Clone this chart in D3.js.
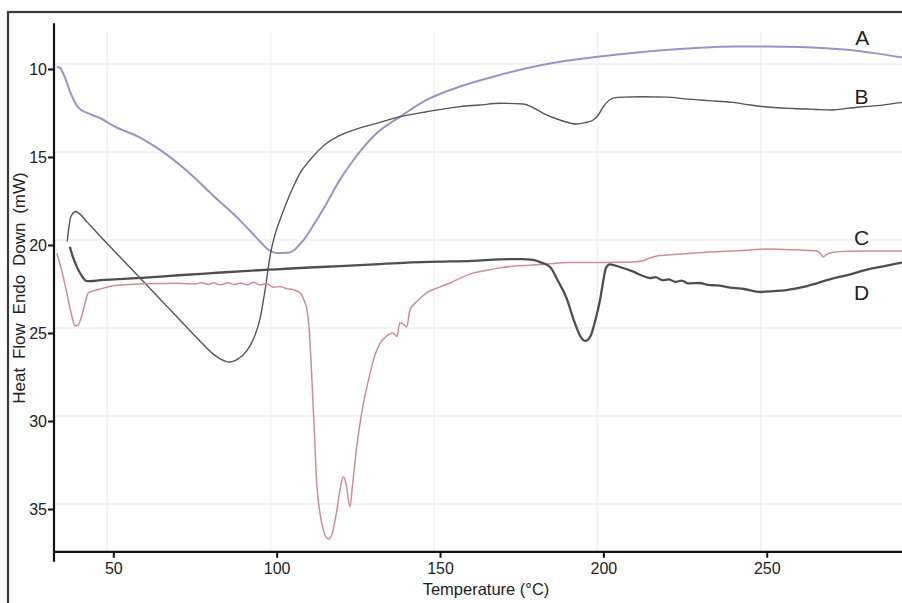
<!DOCTYPE html>
<html>
<head>
<meta charset="utf-8">
<script src="https://cdn.jsdelivr.net/npm/d3@7"></script>
<style>
    body { margin: 0; background: #fff; }
    svg { display: block; font-family: "Liberation Sans", Arial, sans-serif; }
</style>
</head>
<body>
<div id="chart"></div>
<script>
/* Tick values */
const xTicks = [50, 100, 150, 200, 250];
const yTicks = [10, 15, 20, 25, 30, 35];

/* Curve A (temperature, heat flow) */
const tempA = [32.7, 33.7, 35, 37, 39.3, 42, 46, 50.5, 58.2, 64.3, 72.6, 80.6, 88.8, 94.9, 97, 100, 104, 108.2, 111.5, 115.3, 119, 123.5, 130.6, 137.8, 145.9, 156.1, 166.3, 176.5, 186.7, 196.9, 205.1, 217, 229.6, 240, 250, 260, 268, 275.3, 283, 291.4];
const flowA = [9.87, 9.94, 10.4, 11.4, 12.2, 12.5, 12.8, 13.28, 13.9, 14.6, 15.8, 17.2, 18.6, 19.8, 20.2, 20.45, 20.42, 19.72, 18.8, 17.63, 16.4, 15.17, 13.65, 12.71, 11.76, 11.0, 10.44, 9.96, 9.59, 9.34, 9.16, 8.95, 8.8, 8.73, 8.72, 8.75, 8.82, 8.92, 9.1, 9.35];

/* Curve B */
const tempB = [35.9, 36.4, 37, 38.5, 39.5, 42, 46, 50.5, 56, 62.2, 67, 71.4, 76, 80.6, 83, 85.5, 88, 90.9, 93, 94.9, 96.5, 98, 99.5, 101, 103, 105.1, 107.2, 110.2, 115.3, 119, 123.5, 130.6, 137.8, 145.9, 156.1, 162, 168.4, 175.5, 178.5, 181.6, 186.7, 191.8, 194.5, 196.9, 198.5, 200, 203, 206, 212, 219.5, 225, 232, 239.7, 245, 250.1, 258, 265, 270.3, 274, 278.6, 284, 291.4];
const flowB = [19.8, 19.0, 18.4, 18.1, 18.2, 18.7, 19.5, 20.38, 21.45, 22.66, 23.6, 24.46, 25.35, 26.2, 26.5, 26.65, 26.5, 26.0, 25.3, 24.2, 22.5, 20.6, 19.4, 18.58, 17.6, 16.69, 15.9, 15.17, 14.22, 13.8, 13.47, 13.09, 12.71, 12.43, 12.14, 12.05, 11.95, 11.99, 12.2, 12.52, 12.9, 13.13, 13.05, 12.9, 12.6, 12.14, 11.66, 11.6, 11.58, 11.6, 11.7, 11.8, 11.9, 12.05, 12.16, 12.25, 12.3, 12.33, 12.25, 12.16, 12.08, 11.9];

/* Curve C */
const tempC = [32.7, 34, 35.5, 37, 38.3, 39.2, 40.4, 41.5, 42.3, 44, 46, 50.5, 60.3, 70, 75, 77, 79, 80.6, 83, 85, 87, 89, 91, 93, 94.9, 97, 99, 101, 103, 105, 107.2, 108.5, 109.3, 110.2, 110.8, 111.5, 112.2, 113.3, 114.5, 115.8, 117, 118.3, 119.4, 120.4, 121.3, 122.4, 123.3, 124.5, 126, 128.1, 130, 131.6, 133.5, 135.6, 136.8, 137.7, 138.8, 139.8, 140.8, 143, 146, 149, 153, 156, 160, 164, 168.4, 173, 178.5, 183, 188.9, 194, 199, 204, 209, 212, 214.3, 217, 219.5, 225, 232, 239.7, 245, 250.1, 258, 265.4, 266.5, 267.2, 268.2, 269.3, 275, 280.7, 291.4];
const flowC = [20.47, 21.3, 22.5, 23.8, 24.6, 24.55, 24.0, 23.2, 22.74, 22.6, 22.5, 22.3, 22.2, 22.18, 22.22, 22.14, 22.24, 22.16, 22.26, 22.14, 22.25, 22.16, 22.26, 22.12, 22.27, 22.2, 22.4, 22.36, 22.48, 22.54, 22.73, 23.2, 23.7, 25.5, 27.67, 30.5, 33.35, 35.3, 36.3, 36.7, 36.4, 35.2, 33.9, 33.16, 33.6, 34.87, 33.5, 31.46, 29.56, 27.67, 26.3, 25.6, 25.2, 25.0, 25.2, 24.43, 24.5, 24.66, 23.7, 23.2, 22.7, 22.45, 22.16, 21.9, 21.6, 21.45, 21.3, 21.2, 21.14, 21.08, 21.0, 21.0, 21.0, 20.98, 20.97, 20.9, 20.74, 20.6, 20.57, 20.5, 20.4, 20.34, 20.28, 20.23, 20.27, 20.34, 20.5, 20.68, 20.55, 20.45, 20.36, 20.34, 20.34];

/* Curve D */
const tempD = [36.7, 37.5, 39, 40.5, 41.9, 43, 46, 50.5, 60, 70, 80, 90, 100, 110, 119.4, 130, 140, 150, 160, 168.4, 175, 178.5, 181, 183.7, 186, 188.9, 191, 193, 194.5, 196, 197.5, 199, 200, 200.8, 202, 205, 209, 212, 214.3, 216, 218, 220, 222, 224, 226, 229.6, 232, 235, 239.7, 243, 248, 252, 256, 262, 270.3, 275, 280.7, 286, 291.4];
const flowD = [20.1, 20.6, 21.3, 21.8, 22.05, 22.05, 22.0, 21.95, 21.85, 21.72, 21.6, 21.48, 21.38, 21.28, 21.2, 21.1, 21.0, 20.95, 20.9, 20.82, 20.8, 20.85, 21.0, 21.25, 22.0, 23.1, 24.3, 25.2, 25.45, 25.2, 24.3, 23.1, 22.0, 21.3, 21.1, 21.25, 21.5, 21.75, 21.88, 21.82, 22.0, 21.95, 22.1, 22.02, 22.18, 22.16, 22.27, 22.3, 22.44, 22.5, 22.67, 22.62, 22.56, 22.35, 21.9, 21.7, 21.4, 21.2, 21.0];

/* Curve labels and where they sit (temperature, heat flow) */
const labelNames = ["A", "B", "C", "D"];
const labelTemps = [279.2, 279, 279, 279];
const labelFlows = [8.2, 11.55, 19.55, 22.7];

const width = 902, height = 603;

const svg = d3.select("#chart")
    .append("svg")
        .attr("width", width)
        .attr("height", height);

/* Outer frame */
svg.append("rect")
    .attr("x", 8).attr("y", 12)
    .attr("width", 1000).attr("height", 1000)
    .attr("fill", "none")
    .attr("stroke", "#3a3a3a")
    .attr("stroke-width", 2.2);

/* Scales */
const x = d3.scaleLinear().domain([31.85, 291.4]).range([54, 902]);
const y = d3.scaleLinear().domain([7.4, 37.43]).range([23.2, 551.8]);

/* Faint grid */
const grid = svg.append("g").attr("stroke", "#eff0f6").attr("stroke-width", 1.5);
grid.selectAll(".gx")
    .data(xTicks)
    .enter().append("line")
        .attr("x1", d => x(d) - 6).attr("x2", d => x(d) - 6)
        .attr("y1", y.range()[0] + 8).attr("y2", y.range()[1]);
grid.selectAll(".gy")
    .data(yTicks)
    .enter().append("line")
        .attr("x1", x.range()[0]).attr("x2", x.range()[1])
        .attr("y1", d => y(d) - 5).attr("y2", d => y(d) - 5);

/* Clip to the plot area */
svg.append("clipPath").attr("id", "plot-clip")
    .append("rect")
        .attr("x", x.range()[0] + 1).attr("y", y.range()[0])
        .attr("width", x.range()[1] - x.range()[0])
        .attr("height", y.range()[1] - y.range()[0]);

const line = d3.line()
    .x(d => x(d[0]))
    .y(d => y(d[1]))
    .curve(d3.curveMonotoneX);

const series = [
    { t: tempA, q: flowA, color: "#9595c6", w: 2.0 },
    { t: tempB, q: flowB, color: "#555555", w: 1.4 },
    { t: tempC, q: flowC, color: "#cf8e8e", w: 1.5 },
    { t: tempD, q: flowD, color: "#4e4e4e", w: 2.3 }
];

const plot = svg.append("g").attr("clip-path", "url(#plot-clip)");
series.forEach(function(s){
    plot.append("path")
        .datum(d3.zip(s.t, s.q))
        .attr("fill", "none")
        .attr("stroke", s.color)
        .attr("stroke-width", s.w)
        .attr("stroke-linejoin", "round")
        .attr("d", line);
});

/* Axes */
const xAxis = svg.append("g")
    .attr("transform", "translate(0," + y.range()[1] + ")")
    .call(d3.axisBottom(x).tickValues(xTicks).tickSize(6).tickPadding(5));
const yAxis = svg.append("g")
    .attr("transform", "translate(" + x.range()[0] + ",0)")
    .call(d3.axisLeft(y).tickValues(yTicks).tickSize(6).tickPadding(1));

[xAxis, yAxis].forEach(function(a){
    a.select(".domain").remove();
    a.selectAll(".tick line").attr("stroke", "#111").attr("stroke-width", 2);
    a.selectAll(".tick text")
        .attr("fill", "#222")
        .style("font-size", "16px")
        .style("font-family", "\"Liberation Sans\", Arial, sans-serif");
});

/* Axis lines (the y axis runs a little below the x axis) */
svg.append("line")
    .attr("x1", x.range()[0]).attr("x2", x.range()[0])
    .attr("y1", y.range()[0]).attr("y2", y.range()[1] + 10)
    .attr("stroke", "#111").attr("stroke-width", 2.2);
svg.append("line")
    .attr("x1", x.range()[0]).attr("x2", x.range()[1])
    .attr("y1", y.range()[1]).attr("y2", y.range()[1])
    .attr("stroke", "#111").attr("stroke-width", 2.2);

/* Axis titles */
svg.append("text")
    .attr("x", 486).attr("y", 595)
    .attr("text-anchor", "middle")
    .attr("fill", "#222")
    .style("font-size", "16.5px")
    .text("Temperature (°C)");

svg.append("text")
    .attr("transform", "translate(19,288) rotate(-90)")
    .attr("text-anchor", "middle")
    .attr("dy", "0.35em")
    .attr("fill", "#222")
    .style("font-size", "17px")
    .style("word-spacing", "4px")
    .text("Heat Flow Endo Down (mW)");

/* Curve labels */
svg.selectAll(".curve-label")
    .data(labelNames)
    .enter().append("text")
        .attr("class", "curve-label")
        .attr("x", (d, i) => x(labelTemps[i]))
        .attr("y", (d, i) => y(labelFlows[i]))
        .attr("dy", "0.36em")
        .attr("text-anchor", "middle")
        .attr("fill", "#222")
        .style("font-size", "21px")
        .text(d => d);
</script>
</body>
</html>
